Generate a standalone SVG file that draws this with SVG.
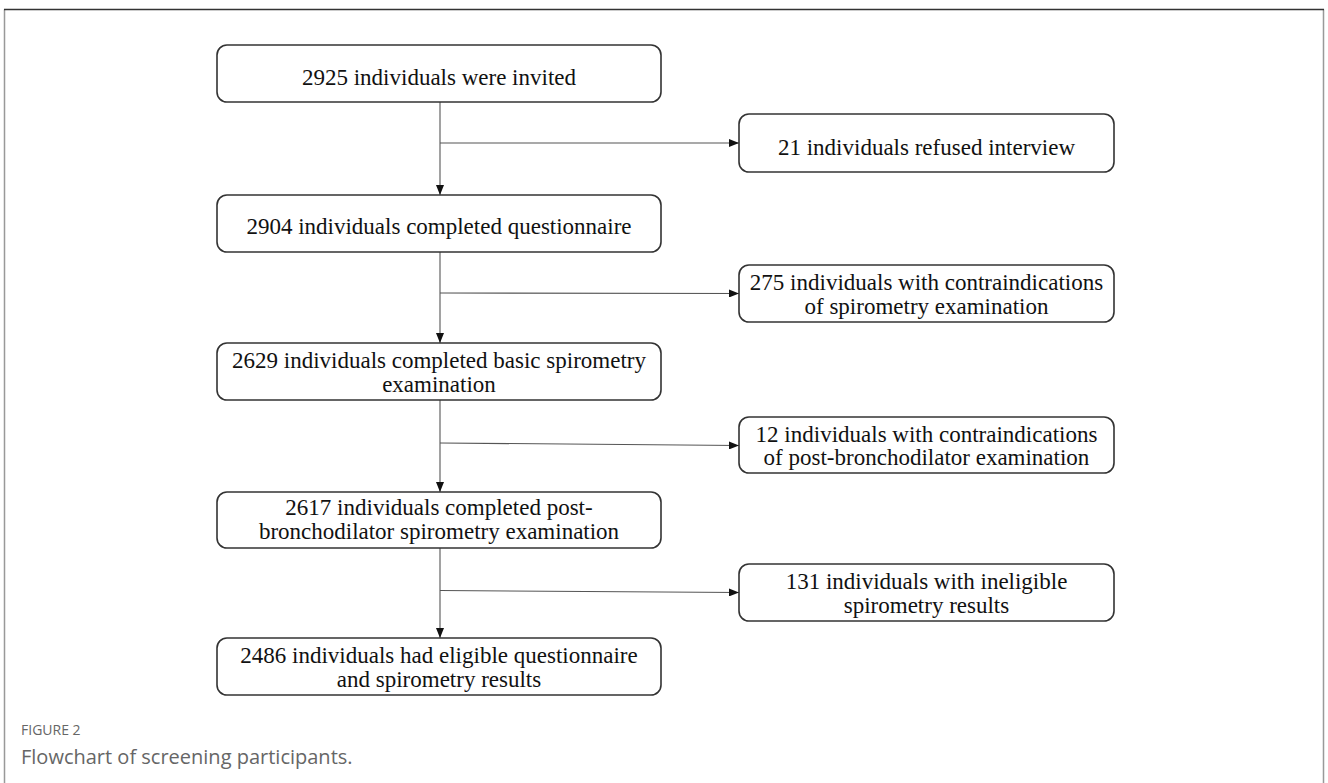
<svg xmlns="http://www.w3.org/2000/svg" width="1328" height="783" viewBox="0 0 1328 783">
<style>
.box{fill:#fff;stroke:#333;stroke-width:1.6}
.t{font-family:"Liberation Serif","Times New Roman",serif;font-size:23px;fill:#111;text-anchor:middle}
.ln{stroke:#555;stroke-width:1.1;fill:none}
.cap1{font-family:"Open Sans","Liberation Sans",sans-serif;font-size:14px;fill:#666}
.cap2{font-family:"Open Sans","Liberation Sans",sans-serif;font-size:20px;fill:#666}
</style>
<defs>
<marker id="ah" markerUnits="userSpaceOnUse" markerWidth="10" markerHeight="8" refX="10" refY="4" orient="auto">
<path d="M0,0 L10,4 L0,8 z" fill="#111"/>
</marker>
</defs>
<rect width="1328" height="783" fill="#fff"/>
<g id="frame">
<path d="M4.5,783 V9.5" stroke="#999" stroke-width="1.5" fill="none"/>
<path d="M1323.5,783 V9.5" stroke="#999" stroke-width="1.5" fill="none"/>
<path d="M4,9.5 H1324" stroke="#333" stroke-width="1.5" fill="none"/>
</g>
<g id="connectors">
<line class="ln" x1="440" y1="102" x2="440" y2="195" marker-end="url(#ah)"/>
<line class="ln" x1="440" y1="143" x2="739" y2="143" marker-end="url(#ah)"/>
<line class="ln" x1="440" y1="252" x2="440" y2="343" marker-end="url(#ah)"/>
<line class="ln" x1="440" y1="293" x2="739" y2="293.5" marker-end="url(#ah)"/>
<line class="ln" x1="440" y1="400" x2="440" y2="492" marker-end="url(#ah)"/>
<line class="ln" x1="440" y1="443" x2="739" y2="445.5" marker-end="url(#ah)"/>
<line class="ln" x1="440" y1="548" x2="440" y2="638" marker-end="url(#ah)"/>
<line class="ln" x1="440" y1="590.5" x2="739" y2="592.5" marker-end="url(#ah)"/>
</g>
<g id="n1"><rect class="box" x="217" y="45" width="444" height="57" rx="10"/><text class="t" x="439" y="85">2925 individuals were invited</text></g>
<g id="n2"><rect class="box" x="739" y="114" width="375" height="58" rx="10"/><text class="t" x="926.5" y="155">21 individuals refused interview</text></g>
<g id="n3"><rect class="box" x="217" y="195" width="444" height="57" rx="10"/><text class="t" x="439" y="234">2904 individuals completed questionnaire</text></g>
<g id="n4"><rect class="box" x="739" y="265" width="375" height="57" rx="10"/><text class="t" x="926.5" y="290">275 individuals with contraindications</text><text class="t" x="926.5" y="313.5">of spirometry examination</text></g>
<g id="n5"><rect class="box" x="217" y="343" width="444" height="57" rx="10"/><text class="t" x="439" y="367.5">2629 individuals completed basic spirometry</text><text class="t" x="439" y="391.5">examination</text></g>
<g id="n6"><rect class="box" x="739" y="417" width="375" height="56" rx="10"/><text class="t" x="926.5" y="441.5">12 individuals with contraindications</text><text class="t" x="926.5" y="465">of post-bronchodilator examination</text></g>
<g id="n7"><rect class="box" x="217" y="492" width="444" height="56" rx="10"/><text class="t" x="439" y="515">2617 individuals completed post-</text><text class="t" x="439" y="539">bronchodilator spirometry examination</text></g>
<g id="n8"><rect class="box" x="739" y="564" width="375" height="57" rx="10"/><text class="t" x="926.5" y="588.5">131 individuals with ineligible</text><text class="t" x="926.5" y="612.5">spirometry results</text></g>
<g id="n9"><rect class="box" x="217" y="638" width="444" height="57" rx="10"/><text class="t" x="439" y="662.5">2486 individuals had eligible questionnaire</text><text class="t" x="439" y="686.5">and spirometry results</text></g>
<g id="caption">
<text class="cap1" x="21" y="735">FIGURE 2</text>
<text class="cap2" x="21" y="764">Flowchart of screening participants.</text>
</g>
</svg>
